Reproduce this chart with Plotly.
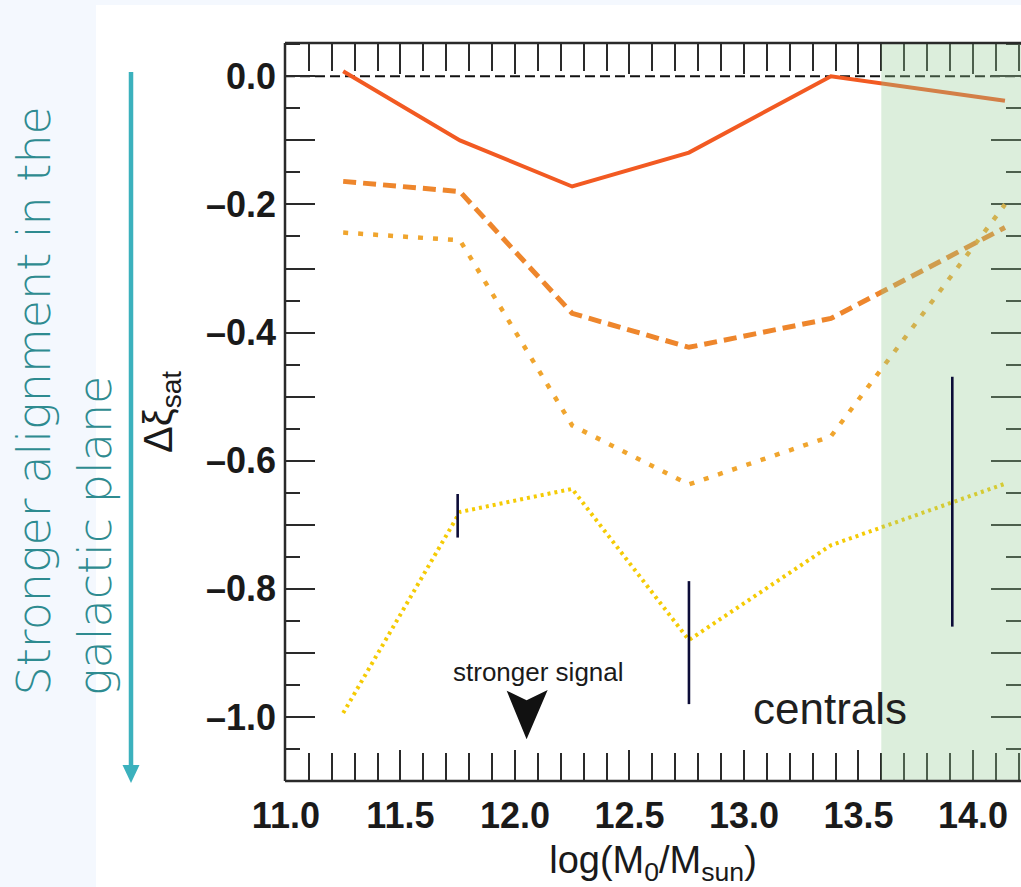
import plotly.graph_objects as go

# Halo mass bins (log M0 / Msun) at which the alignment signal is measured
log_mass = [11.25, 11.76, 12.25, 12.76, 13.38, 14.14]

# Four satellite samples, plotted with different line styles
solid_series = [0.008, -0.100, -0.172, -0.119, 0.000, -0.038]
dashed_series = [-0.164, -0.180, -0.370, -0.423, -0.378, -0.236]
dotted_series = [-0.244, -0.256, -0.545, -0.637, -0.562, -0.200]
fine_dotted_series = [-0.994, -0.680, -0.644, -0.880, -0.732, -0.636]

# Representative uncertainties (centre and half-length of each bar)
err_mass = [11.75, 12.76, 13.91]
err_centre = [-0.686, -0.884, -0.664]
err_half = [0.034, 0.096, 0.195]

# Halo-mass range dominated by centrals
centrals_start = 13.6

x_tick_vals = [11.0, 11.5, 12.0, 12.5, 13.0, 13.5, 14.0]
x_tick_text = ["11.0", "11.5", "12.0", "12.5", "13.0", "13.5", "14.0"]
y_tick_vals = [0.0, -0.1, -0.2, -0.3, -0.4, -0.5, -0.6, -0.7, -0.8, -0.9, -1.0]
y_tick_text = ["0.0", "", "\u20130.2", "", "\u20130.4", "", "\u20130.6", "",
               "\u20130.8", "", "\u20131.0"]

X_RANGE = [10.996, 14.21]
Y_RANGE = [-1.1, 0.052]

W, H = 1021, 887
ML, MR, MT, MB = 285, 0, 43, 106
PW, PH = W - ML - MR, H - MT - MB


def px(xpix):
    return (xpix - ML) / PW


def py(ypix):
    return (H - MB - ypix) / PH


FONT = "Liberation Sans, Arial, sans-serif"
SIDE_FONT = "DejaVu Sans, Lato, sans-serif"
AXIS_COL = "#2a2a2a"
TEAL_TEXT = "#2E8B90"
TEAL_ARROW = "#3BB1BD"

fig = go.Figure()

fig.add_trace(go.Scatter(x=log_mass, y=fine_dotted_series, mode="lines",
                         line=dict(color="#F5CB05", width=4, dash="3px,4px"),
                         showlegend=False))
fig.add_trace(go.Scatter(x=log_mass, y=dotted_series, mode="lines",
                         line=dict(color="#F0A52E", width=4.5, dash="5px,10px"),
                         showlegend=False))
fig.add_trace(go.Scatter(x=log_mass, y=dashed_series, mode="lines",
                         line=dict(color="#EE862C", width=5, dash="13px,7px"),
                         showlegend=False))
fig.add_trace(go.Scatter(x=log_mass, y=solid_series, mode="lines",
                         line=dict(color="#F25A22", width=4),
                         showlegend=False))
# translucent band marking the centrals-dominated mass range
fig.add_trace(go.Scatter(x=[centrals_start, X_RANGE[1] + 0.05,
                            X_RANGE[1] + 0.05, centrals_start],
                         y=[Y_RANGE[0] - 0.05, Y_RANGE[0] - 0.05,
                            Y_RANGE[1] + 0.05, Y_RANGE[1] + 0.05],
                         mode="lines", fill="toself",
                         fillcolor="rgba(150,202,150,0.33)",
                         line=dict(width=0), hoverinfo="skip",
                         showlegend=False))
fig.add_trace(go.Scatter(x=err_mass, y=err_centre, mode="markers",
                         marker=dict(size=1, color="rgba(0,0,0,0)"),
                         error_y=dict(type="data", array=err_half, visible=True,
                                      color="#0C0C38", thickness=2.6, width=0),
                         showlegend=False))

shapes = []
# white panel over the pale page background
shapes.append(dict(type="rect", xref="paper", yref="paper",
                   x0=px(96), x1=px(W + 5), y0=py(H + 5), y1=py(5),
                   fillcolor="white", line_width=0, layer="below"))
# zero reference line
shapes.append(dict(type="line", xref="paper", yref="y", x0=0, x1=1, y0=0, y1=0,
                   line=dict(color="#111111", width=2, dash="10px,5px"),
                   layer="below"))
# axis frame (left, top, bottom)
for x0, y0, x1, y1 in [(0, 0, 0, 1), (0, 1, 1, 1), (0, 0, 1, 0)]:
    shapes.append(dict(type="line", xref="paper", yref="paper",
                       x0=x0, y0=y0, x1=x1, y1=y1,
                       line=dict(color=AXIS_COL, width=2.5)))
# teal direction arrow on the left
shapes.append(dict(type="line", xref="paper", yref="paper",
                   x0=px(131), x1=px(131), y0=py(72), y1=py(768),
                   line=dict(color=TEAL_ARROW, width=4.5)))
shapes.append(dict(type="path", xref="paper", yref="paper",
                   path=(f"M {px(122.5)},{py(765)} L {px(139.5)},{py(765)} "
                         f"L {px(131)},{py(783)} Z"),
                   fillcolor=TEAL_ARROW, line_width=0))
# black pointer below the "stronger signal" label
shapes.append(dict(type="path", xref="x", yref="y",
                   path="M 11.964,-0.959 L 12.051,-0.974 L 12.143,-0.958 "
                        "L 12.051,-1.035 Z",
                   fillcolor="#111111", line_width=0))

side_font = dict(family=SIDE_FONT, size=46, color=TEAL_TEXT, weight=200)
annotations = [
    dict(text="Stronger alignment in the", xref="paper", yref="paper",
         x=px(33), y=py(698), xanchor="center", yanchor="bottom",
         textangle=-90, showarrow=False, font=side_font),
    dict(text="galactic plane", xref="paper", yref="paper",
         x=px(95), y=py(698), xanchor="center", yanchor="bottom",
         textangle=-90, showarrow=False, font=side_font),
    dict(text="stronger signal", xref="paper", yref="paper",
         x=px(538), y=py(672), xanchor="center", yanchor="middle",
         showarrow=False, font=dict(family=FONT, size=26, color="#1a1a1a")),
    dict(text="centrals", xref="paper", yref="paper",
         x=px(830), y=py(708), xanchor="center", yanchor="middle",
         showarrow=False, font=dict(family=FONT, size=44, color="#1f1f1f")),
]

fig.update_layout(
    width=W, height=H,
    margin=dict(l=ML, r=MR, t=MT, b=MB, pad=0),
    paper_bgcolor="#F4F8FE",
    plot_bgcolor="white",
    shapes=shapes,
    annotations=annotations,
    showlegend=False,
)

fig.update_xaxes(
    range=X_RANGE, showgrid=False, zeroline=False, showline=False,
    layer="below traces",
    mirror="allticks", ticks="inside", ticklen=31, tickwidth=2,
    tickcolor=AXIS_COL, tickmode="array", tickvals=x_tick_vals,
    ticktext=x_tick_text, ticklabelstandoff=10,
    tickfont=dict(family=FONT, size=36, color="#1a1a1a", weight="bold"),
    minor=dict(tickmode="linear", tick0=11.0, dtick=0.1, ticks="inside",
               ticklen=28, tickwidth=2, tickcolor=AXIS_COL),
    title=dict(text="log(M<sub>0</sub>/M<sub>sun</sub>)", standoff=17,
               font=dict(family=FONT, size=38, color="#1a1a1a")),
)
fig.update_yaxes(
    range=Y_RANGE, showgrid=False, zeroline=False, showline=False,
    layer="below traces",
    mirror="allticks", ticks="inside", ticklen=30, tickwidth=2,
    tickcolor=AXIS_COL, tickmode="array", tickvals=y_tick_vals,
    ticktext=y_tick_text, ticklabelstandoff=8,
    tickfont=dict(family=FONT, size=36, color="#1a1a1a", weight="bold"),
    minor=dict(tickmode="linear", tick0=0.0, dtick=0.05, ticks="inside",
               ticklen=15, tickwidth=2, tickcolor=AXIS_COL),
    title=dict(text="\u0394\u03be<sub>sat</sub>", standoff=20,
               font=dict(family=FONT, size=40, color="#1a1a1a")),
)

fig.write_html("out.html")
